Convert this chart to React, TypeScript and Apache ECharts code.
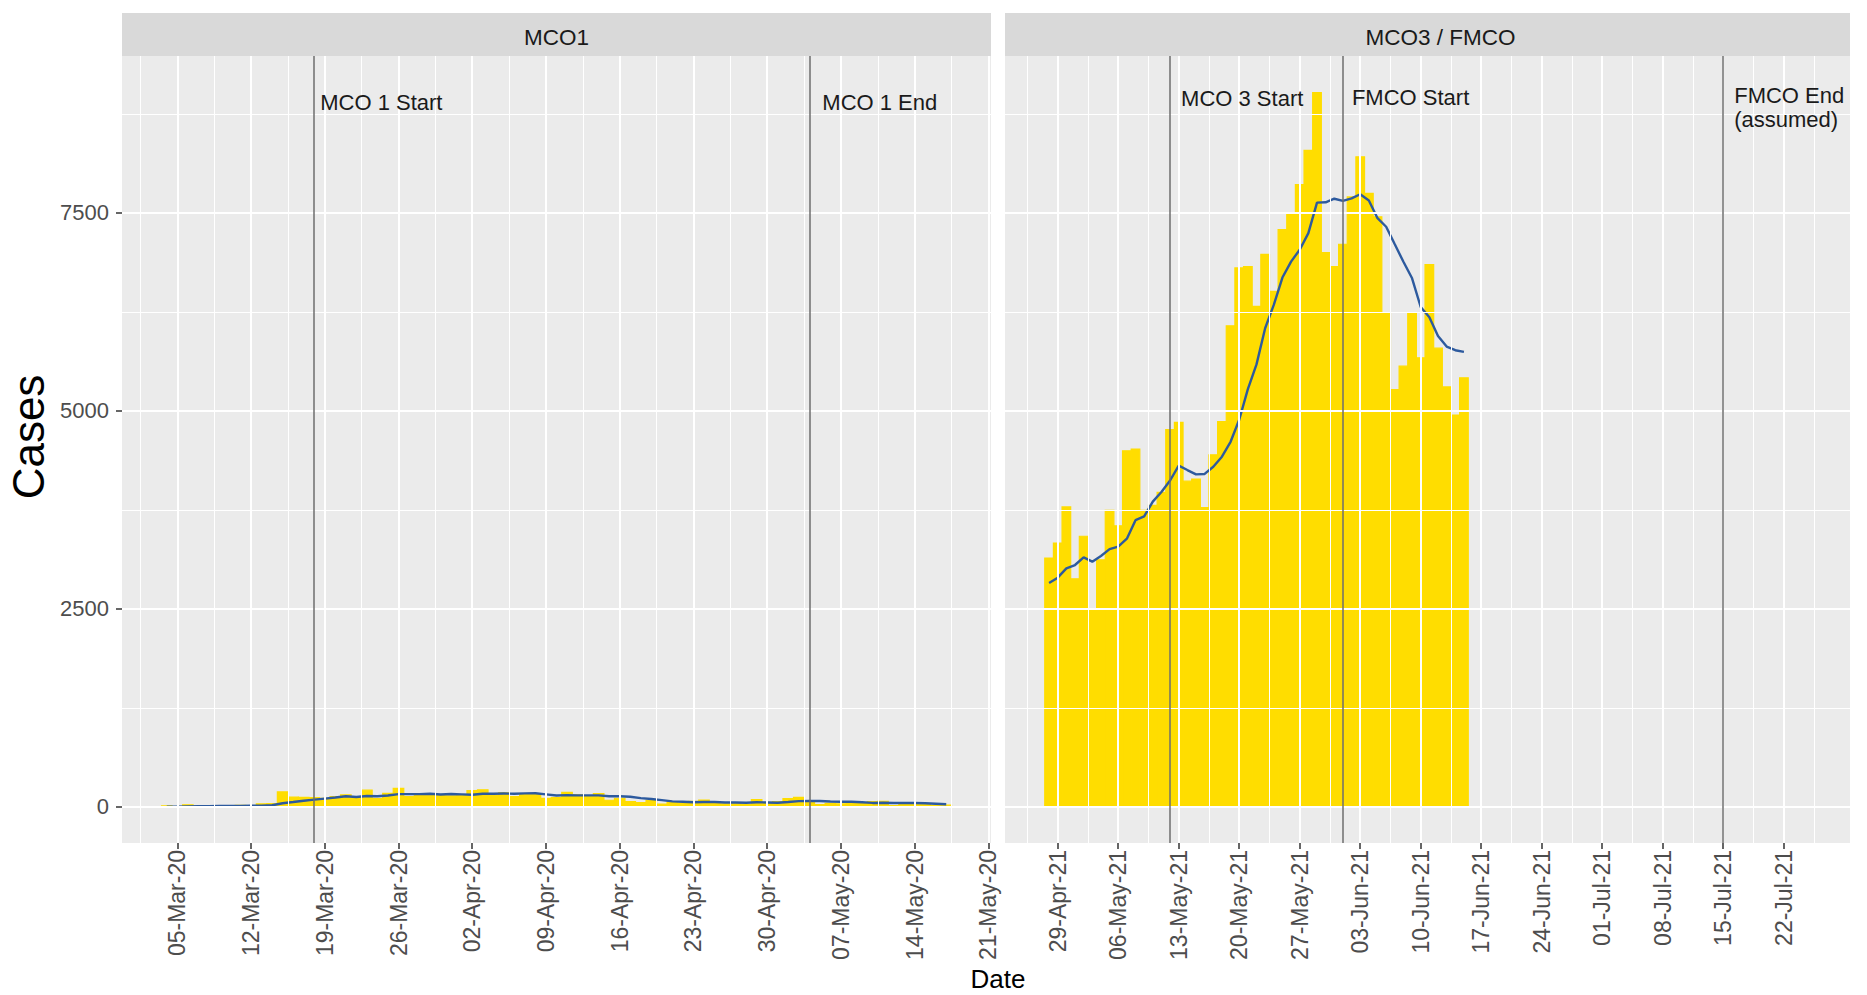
import React, { useEffect, useRef } from 'react';
import * as echarts from 'echarts';

// ---------------- DATA ----------------
// MCO1 panel: daily cases from 2020-03-04
const mco1StartDate = '2020-03-04';
const mco1Cases = [
  14, 5, 28, 10, 6, 18, 12, 20, 9, 39, 41, 190, 125, 120, 117, 110, 130, 153, 123, 212, 106, 172, 235, 130, 159, 150, 156, 140,
  142, 208, 217, 150, 179, 131, 170, 156, 109, 118, 184, 153, 134, 170, 85, 110, 69, 54, 84, 36, 57, 50, 71, 88, 51, 38, 40, 31, 94, 57,
  69, 105, 122, 55, 30, 45, 39, 68, 54, 67, 70, 16, 37, 40, 36, 17, 22,
];
const mco1Avg = [
  3, 4, 8, 10, 11, 13, 13, 14, 15, 16, 21, 47, 62, 78, 92, 106, 119, 135, 125, 138, 136, 144, 162, 162, 162, 166, 158, 163,
  159, 155, 167, 166, 170, 167, 171, 173, 159, 145, 150, 146, 146, 146, 136, 136, 129, 111, 101, 87, 71, 66, 60, 63, 62, 56, 56, 53, 59, 57,
  54, 62, 74, 76, 76, 69, 66, 66, 59, 51, 53, 51, 50, 50, 46, 40, 34,
];
// MCO3 / FMCO panel: daily cases from 2021-04-28
const mco3StartDate = '2021-04-28';
const mco3Cases = [
  3142, 3332, 3788,
  2881, 3418, 2500, 3120, 3744, 3551, 4498, 4519, 3744, 3807,
  3973, 4765, 4855, 4113, 4140, 3780, 4446, 4865, 6075, 6806,
  6823, 6320, 6976, 6509, 7289, 7478, 7857, 8290, 9020, 6999,
  6824,
  7105, 7703, 8209, 7748, 7452, 6241, 5271, 5566, 6239, 5671,
  6849, 5793, 5304, 4949, 5419,
];
const mco3Avg = [
  2828, 2895, 3013,
  3055, 3152, 3097, 3169, 3255, 3286, 3387, 3621, 3668, 3855,
  3977, 4122, 4309, 4254, 4200, 4205, 4296, 4423, 4611, 4889,
  5276, 5588, 6044, 6339, 6685, 6886, 7036, 7246, 7631, 7635,
  7680,
  7653, 7685, 7736, 7658, 7434, 7326, 7104, 6884, 6675, 6313,
  6184, 5947, 5813, 5767, 5746,
];
const mco1Ticks = ['05-Mar-20', '12-Mar-20', '19-Mar-20', '26-Mar-20', '02-Apr-20', '09-Apr-20', '16-Apr-20', '23-Apr-20', '30-Apr-20', '07-May-20', '14-May-20', '21-May-20'];
const mco3Ticks = ['29-Apr-21', '06-May-21', '13-May-21', '20-May-21', '27-May-21', '03-Jun-21', '10-Jun-21', '17-Jun-21', '24-Jun-21', '01-Jul-21', '08-Jul-21', '15-Jul-21', '22-Jul-21'];
const yTicks = [0, 2500, 5000, 7500];
const mco1EventDates = ['2020-03-18', '2020-05-04'];
const mco1EventLabels = ['MCO 1 Start', 'MCO 1 End'];
const mco3EventDates = ['2021-05-12', '2021-06-01', '2021-07-15'];
const mco3EventLabels = ['MCO 3 Start', 'FMCO Start', 'FMCO End\n(assumed)'];
const panelTitles = ['MCO1', 'MCO3 / FMCO'];

// ---------------- HELPERS ----------------
const MONTHS = ['Jan', 'Feb', 'Mar', 'Apr', 'May', 'Jun', 'Jul', 'Aug', 'Sep', 'Oct', 'Nov', 'Dec'];
const DAY = 86400000;
const isoDay = (s: string) => {
  const [y, m, d] = s.split('-').map(Number);
  return Date.UTC(y, m - 1, d) / DAY;
};
const tickDay = (s: string) => {
  const [d, mon, yy] = s.split('-');
  return Date.UTC(2000 + Number(yy), MONTHS.indexOf(mon), Number(d)) / DAY;
};
const fmtDay = (v: number) => {
  const dt = new Date(Math.round(v) * DAY);
  return `${String(dt.getUTCDate()).padStart(2, '0')}-${MONTHS[dt.getUTCMonth()]}-${String(dt.getUTCFullYear() % 100).padStart(2, '0')}`;
};

const FONT = "'Liberation Sans', Arial, Helvetica, sans-serif";
const Y_MIN = -455;
const Y_MAX = 9482;
const BAR_COLOR = '#FFDD00';
const LINE_COLOR = '#2D5A9E';

const GRIDS = [
  { left: 122, top: 56, width: 869, height: 787 },
  { left: 1005, top: 56, width: 845, height: 787 },
];
const STRIP_TEXT_DX = [0, 13];
const X_RANGES = [
  [tickDay('05-Mar-20') - 5.25, tickDay('05-Mar-20') + 77.25],
  [tickDay('29-Apr-21') - 6.1, tickDay('29-Apr-21') + 91.67],
];

function buildPanel(p: number, startIso: string, cases: number[], avg: number[], ticks: string[], evDates: string[], evLabels: string[], labelY: number[], labelDx: number[]) {
  const start = isoDay(startIso);
  const barData = cases.map((c, i) => [start + i, c]);
  const avgData = avg.map((c, i) => [start + i, c]);
  const majors = ticks.map(tickDay);
  const [xmin, xmax] = X_RANGES[p];
  const minors: number[] = [];
  const first = majors[0] - 3.5;
  for (let v = first; v <= xmax; v += 7) {
    if (v >= xmin) minors.push(v);
  }
  const yMinor = [1250, 3750, 6250, 8750];
  const gridLines = [
    ...minors.map((v) => ({ xAxis: v, lineStyle: { width: 1 } })),
    ...yMinor.map((v) => ({ yAxis: v, lineStyle: { width: 1 } })),
    ...majors.map((v) => ({ xAxis: v, lineStyle: { width: 2 } })),
    ...yTicks.map((v) => ({ yAxis: v, lineStyle: { width: 2 } })),
  ];
  const dummy = [[xmin, Y_MIN]];
  const series: any[] = [
    {
      type: 'line', xAxisIndex: p, yAxisIndex: p, z: 1, silent: true,
      data: dummy, showSymbol: false, lineStyle: { opacity: 0 },
      markLine: {
        silent: true, symbol: ['none', 'none'], label: { show: false },
        lineStyle: { color: '#FFFFFF', type: 'solid' },
        emphasis: { disabled: true },
        data: gridLines,
      },
    },
    {
      type: 'custom', xAxisIndex: p, yAxisIndex: p, z: 2, silent: true,
      data: barData,
      renderItem: (params: any, api: any) => {
        const x = api.value(0);
        const y = api.value(1);
        const a = api.coord([x - 0.5, y]);
        const b = api.coord([x + 0.5, 0]);
        return {
          type: 'rect',
          shape: { x: a[0], y: a[1], width: b[0] - a[0], height: b[1] - a[1] },
          style: { fill: BAR_COLOR, stroke: BAR_COLOR, lineWidth: 1.2 },
        };
      },
    },
    {
      type: 'line', xAxisIndex: p, yAxisIndex: p, z: 3, silent: true,
      data: avgData, showSymbol: false,
      lineStyle: { color: LINE_COLOR, width: 2.4 },
    },
    {
      type: 'line', xAxisIndex: p, yAxisIndex: p, z: 4, silent: true,
      data: dummy, showSymbol: false, lineStyle: { opacity: 0 },
      markLine: {
        silent: true, symbol: ['none', 'none'], label: { show: false },
        lineStyle: { color: '#6E6E6E', type: 'solid', width: 1.5 },
        emphasis: { disabled: true },
        data: evDates.map((d) => ({ xAxis: isoDay(d) })),
      },
    },
    {
      type: 'custom', xAxisIndex: p, yAxisIndex: p, z: 5, silent: true,
      data: evDates.map((d, i) => [isoDay(d), labelY[i]]),
      renderItem: (params: any, api: any) => {
        const pt = api.coord([api.value(0), api.value(1)]);
        return {
          type: 'text',
          x: pt[0] + labelDx[params.dataIndex],
          y: pt[1],
          style: {
            text: evLabels[params.dataIndex],
            fill: '#1A1A1A',
            fontSize: 22,
            fontFamily: FONT,
            align: 'left',
            verticalAlign: 'middle',
            lineHeight: 24,
          },
        };
      },
    },
  ];
  const xAxis = {
    type: 'value', gridIndex: p, min: xmin, max: xmax,
    axisLine: { show: false, onZero: false },
    splitLine: { show: false },
    axisTick: { show: true, customValues: majors, length: 6, lineStyle: { color: '#333333', width: 1.5 } },
    axisLabel: {
      show: true, customValues: majors, rotate: 90, margin: 7,
      fontSize: 23, color: '#4D4D4D', fontFamily: FONT,
      formatter: (v: number) => fmtDay(v),
    },
  };
  const yAxis = {
    type: 'value', gridIndex: p, min: Y_MIN, max: Y_MAX,
    axisLine: { show: false, onZero: false },
    splitLine: { show: false },
    axisTick: { show: p === 0, customValues: yTicks, length: 6, lineStyle: { color: '#333333', width: 1.5 } },
    axisLabel: {
      show: p === 0, customValues: yTicks, margin: 13,
      fontSize: 22, color: '#4D4D4D', fontFamily: FONT,
      formatter: (v: number) => String(v),
    },
  };
  return { series, xAxis, yAxis };
}

export default function App() {
  const ref = useRef<HTMLDivElement>(null);
  useEffect(() => {
    if (!ref.current) return;
    const chart = echarts.init(ref.current, undefined, { renderer: 'svg' });
    const p1 = buildPanel(0, mco1StartDate, mco1Cases, mco1Avg, mco1Ticks, mco1EventDates, mco1EventLabels, [8900, 8900], [6, 13]);
    const p2 = buildPanel(1, mco3StartDate, mco3Cases, mco3Avg, mco3Ticks, mco3EventDates, mco3EventLabels, [8940, 8960, 8830], [11, 9, 11]);
    const strips: any[] = [];
    GRIDS.forEach((g, i) => {
      strips.push({
        type: 'rect', shape: { x: g.left, y: 13, width: g.width, height: 43 },
        style: { fill: '#D9D9D9' }, silent: true,
      });
      strips.push({
        type: 'text', x: g.left + g.width / 2 + STRIP_TEXT_DX[i], y: 37,
        style: { text: panelTitles[i], fill: '#1A1A1A', fontSize: 22.5, fontFamily: FONT, align: 'center', verticalAlign: 'middle' },
        silent: true,
      });
    });
    const option: any = {
      animation: false,
      backgroundColor: '#FFFFFF',
      textStyle: { fontFamily: FONT },
      grid: GRIDS.map((g) => ({ ...g, show: true, backgroundColor: '#EBEBEB', borderWidth: 0, containLabel: false })),
      xAxis: [p1.xAxis, p2.xAxis],
      yAxis: [p1.yAxis, p2.yAxis],
      series: [...p1.series, ...p2.series],
      graphic: [
        ...strips,
        {
          type: 'text', x: 28, y: 437, rotation: Math.PI / 2,
          style: { text: 'Cases', fill: '#000000', fontSize: 44, fontFamily: FONT, align: 'center', verticalAlign: 'middle' },
          silent: true,
        },
        {
          type: 'text', x: 998, y: 979,
          style: { text: 'Date', fill: '#000000', fontSize: 26, fontFamily: FONT, align: 'center', verticalAlign: 'middle' },
          silent: true,
        },
      ],
    };
    chart.setOption(option);
    return () => chart.dispose();
  }, []);
  return <div ref={ref} style={{ position: 'fixed', left: 0, top: 0, width: 1867, height: 995 }} />;
}
